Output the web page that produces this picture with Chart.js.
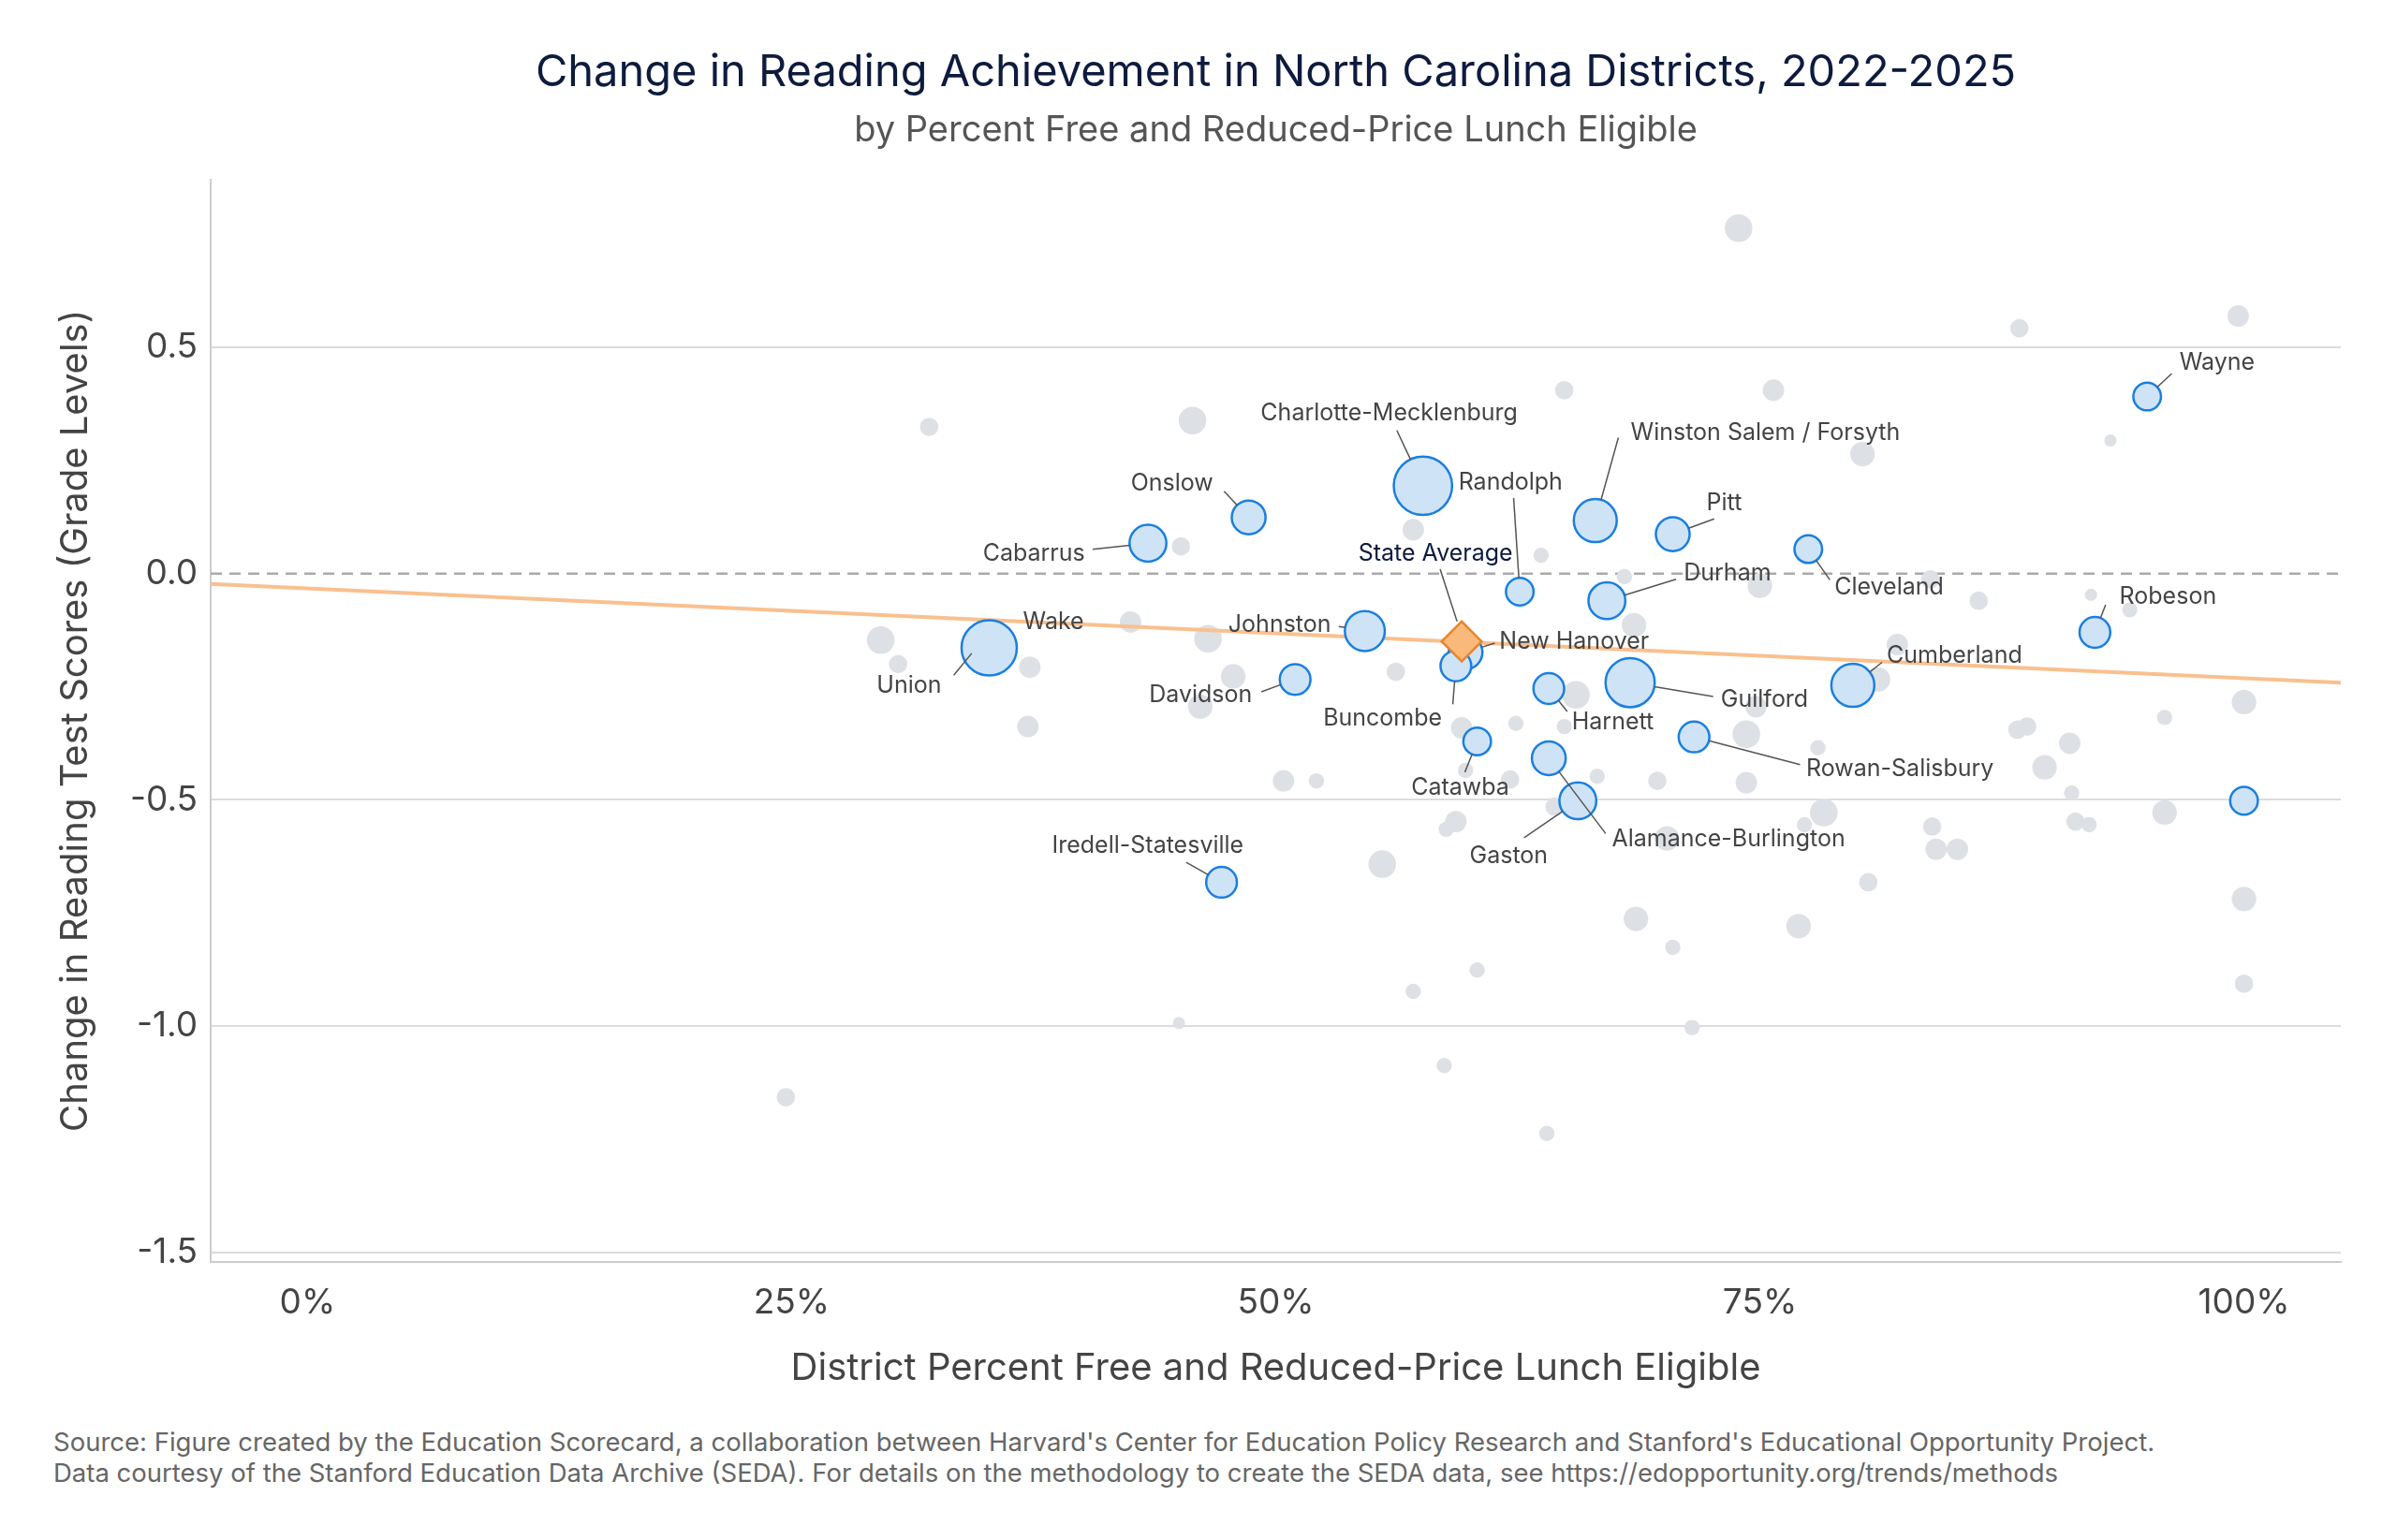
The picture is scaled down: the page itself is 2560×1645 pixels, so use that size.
<!DOCTYPE html>
<html>
<head>
<meta charset="utf-8">
<script src="https://cdn.jsdelivr.net/npm/chart.js@4.4.1/dist/chart.umd.min.js"></script>
<style>
  body { margin: 0; background: #fff; font-family: Inter, "Noto Sans", sans-serif; }
  #wrap { position: relative; width: 2560px; height: 1500px; }
  #foot { position: absolute; left: 57px; top: 1524px; font-size: 27.5px; color: #666; line-height: 33px; }
</style>
</head>
<body>
<div id="wrap"><canvas id="myChart"></canvas></div>
<div id="foot">Source: Figure created by the Education Scorecard, a collaboration between Harvard's Center for Education Policy Research and Stanford's Educational Opportunity Project.<br>Data courtesy of the Stanford Education Data Archive (SEDA). For details on the methodology to create the SEDA data, see https://edopportunity.org/trends/methods</div>
<script>
//------------------------------data-----------------
const S = 1.641; // reference px -> page px

const xTicks = [0, 25, 50, 75, 100];
const yTicks = [0.5, 0.0, -0.5, -1.0, -1.5];

// gray districts: percent FRPL, change, size
const grayX = [73.9,32.1,45.7,64.9,75.7,88.4,99.7,93.1,80.3,57.1,45.1,63.7,68.0,75.0,83.8,86.3,92.1,94.1,68.5,29.6,42.5,46.5,37.3,47.8,46.1,56.2,37.2,65.5,74.8,74.3,81.1,82.1,59.6,62.4,64.9,78.0,88.8,88.3,91.0,89.7,100,95.9,91.1,91.3,92.0,95.9,83.9,84.1,85.2,78.3,77.3,74.3,69.7,70.2,66.6,59.8,62.1,64.4,50.4,52.1,59.3,58.8,55.5,77.0,80.6,68.6,70.5,100,100,57.1,60.4,45.0,71.5,58.7,24.7,64.0,30.5];
const grayY = [0.763,0.324,0.338,0.405,0.405,0.542,0.569,0.294,0.264,0.097,0.060,0.040,-0.007,-0.027,-0.013,-0.060,-0.047,-0.080,-0.114,-0.147,-0.107,-0.144,-0.207,-0.227,-0.294,-0.217,-0.338,-0.268,-0.294,-0.355,-0.234,-0.157,-0.341,-0.331,-0.338,-0.385,-0.338,-0.345,-0.375,-0.428,-0.284,-0.318,-0.485,-0.548,-0.555,-0.528,-0.559,-0.609,-0.609,-0.528,-0.555,-0.462,-0.458,-0.585,-0.448,-0.435,-0.455,-0.515,-0.458,-0.458,-0.548,-0.565,-0.642,-0.779,-0.682,-0.763,-0.826,-0.719,-0.906,-0.923,-0.876,-0.993,-1.003,-1.087,-1.157,-1.237,-0.200];
const grayR = [9,6,9,6,7,6,7,4,8,7,6,5,5,8,6,6,4,5,8,9,7,9,7,8,8,6,7,9,7,9,8,7,7,5,5,5,6,6,7,8,8,5,5,6,5,8,6,7,7,9,5,7,6,8,5,5,6,6,7,5,7,5,9,8,6,8,5,8,6,5,5,4,5,5,6,5,6];

// highlighted districts
const names = ['Union','Wake','Cabarrus','Onslow','Charlotte-Mecklenburg','Randolph','Winston Salem / Forsyth','Pitt','Cleveland','Durham','Johnston','New Hanover','Buncombe','Davidson','Guilford','Harnett','Cumberland','Rowan-Salisbury','Catawba','Alamance-Burlington','Gaston','Iredell-Statesville','Wayne','Robeson',''];
const hiX = [34.8,35.2,43.4,48.6,57.6,62.6,66.5,70.5,77.5,67.1,54.6,59.8,59.3,51.0,68.3,64.1,79.8,71.6,60.4,64.1,65.6,47.2,95.0,92.3,100];
const hiY = [-0.150,-0.164,0.067,0.124,0.194,-0.040,0.117,0.087,0.054,-0.060,-0.127,-0.174,-0.204,-0.234,-0.241,-0.254,-0.247,-0.361,-0.371,-0.408,-0.502,-0.682,0.391,-0.130,-0.502];
const hiR = [10,18,12,11,19,9,14,11,9,12,13,11,10,10,16,10,14,10,9,11,12,10,9,10,9];

// label placement (reference px relative to point): text x, text y, align, leader start x, y
const labelPos = [
  [-26,29,'right',-18,22],[22,-17,'left',13,-8],[-41,7,'right',-36,4],[-23,-22,'right',-16,-17],
  [-22,-47,'center',-17,-36],[-6,-71,'center',-4,-61],[23,-57,'left',15,-54],[22,-20,'left',27,-10],
  [17,25,'left',14,20],[50,-18,'left',45,-14],[-22,-4,'right',-17,-3],[22,-7,'left',19,-6],
  [-9,34,'right',-2,25],[-28,10,'right',-22,8],[59,11,'left',54,9],[15,22,'left',12,15],
  [22,-19,'left',19,-15],[73,21,'left',69,18],[-11,30,'center',-8,20],[41,53,'left',37,49],
  [-45,36,'center',-35,24],[-48,-24,'center',-23,-13],[21,-22,'left',16,-15],[16,-23,'left',7,-18],
  null
];

const avgX = [59.6];
const avgY = [-0.15];

const trendX = [-5, 105];
const trendY = [-0.023, -0.241];

//------------------------------chart-----------------
const pts = (xs, ys) => xs.map((x, i) => ({x: x, y: ys[i]}));

const labelPlugin = {
  id: 'labels',
  beforeDatasetsDraw(chart) {
    const {ctx, chartArea, scales} = chart;
    const y0 = scales.y.getPixelForValue(0);
    ctx.save();
    ctx.strokeStyle = '#aaaaaa';
    ctx.lineWidth = 2.5;
    ctx.setLineDash([12, 8]);
    ctx.beginPath();
    ctx.moveTo(chartArea.left, y0);
    ctx.lineTo(chartArea.right, y0);
    ctx.stroke();
    ctx.restore();
  },
  afterDatasetsDraw(chart) {
    const {ctx, scales} = chart;
    ctx.save();
    ctx.font = '25px Inter, "Noto Sans", sans-serif';
    ctx.textBaseline = 'middle';
    names.forEach((n, i) => {
      const p = labelPos[i];
      if (!p) return;
      const px = scales.x.getPixelForValue(hiX[i]);
      const py = scales.y.getPixelForValue(hiY[i]);
      const lx = px + p[3] * S, ly = py + p[4] * S;
      const d = Math.hypot(lx - px, ly - py);
      const r = hiR[i] * S;
      if (d > r) {
        ctx.strokeStyle = '#555';
        ctx.lineWidth = 1.5;
        ctx.beginPath();
        ctx.moveTo(lx, ly);
        ctx.lineTo(px + (lx - px) * r / d, py + (ly - py) * r / d);
        ctx.stroke();
      }
      ctx.fillStyle = '#444';
      ctx.textAlign = p[2];
      ctx.fillText(n, px + p[0] * S, py + p[1] * S);
    });
    // state average
    const ax = scales.x.getPixelForValue(avgX[0]);
    const ay = scales.y.getPixelForValue(avgY[0]);
    ctx.strokeStyle = '#555';
    ctx.lineWidth = 1.5;
    ctx.beginPath();
    ctx.moveTo(ax - 14 * S, ay - 47 * S);
    ctx.lineTo(ax - 3 * S, ay - 13 * S);
    ctx.stroke();
    ctx.fillStyle = '#0d1b3e';
    ctx.textAlign = 'center';
    ctx.fillText('State Average', ax - 17 * S, ay - 57 * S);
    ctx.restore();
  }
};

const config = {
  type: 'scatter',
  data: {
    datasets: [
      { label: 'State Average', data: pts(avgX, avgY), order: 0, pointStyle: 'rectRot',
        pointRadius: 13 * S, backgroundColor: '#f9b97a', borderColor: '#e8852a', borderWidth: 2.5 },
      { label: 'Highlighted', data: pts(hiX, hiY), order: 1, pointRadius: hiR.map(r => r * S),
        backgroundColor: '#cfe3f7', borderColor: '#1a7fe0', borderWidth: 2.5 },
      { label: 'Trend', type: 'line', data: pts(trendX, trendY), order: 2, pointRadius: 0,
        borderColor: '#f9c08f', borderWidth: 4 },
      { label: 'Districts', data: pts(grayX, grayY), order: 3, pointRadius: grayR.map(r => r * S),
        backgroundColor: '#dde1e6', borderWidth: 0 }
    ]
  },
  options: {
    responsive: true,
    maintainAspectRatio: false,
    animation: false,
    layout: { padding: { top: 50, right: 60, left: 53, bottom: 10 } },
    plugins: {
      legend: { display: false },
      tooltip: { enabled: false },
      title: { display: true, fullSize: false, text: 'Change in Reading Achievement in North Carolina Districts, 2022-2025',
        color: '#0d1b3e', font: { size: 47, family: 'Inter', weight: 'normal' }, padding: { bottom: 10 } },
      subtitle: { display: true, fullSize: false, text: 'by Percent Free and Reduced-Price Lunch Eligible',
        color: '#555', font: { size: 38, family: 'Inter' }, padding: { bottom: 30 } }
    },
    scales: {
      x: {
        min: -5, max: 105,
        afterBuildTicks: a => { a.ticks = xTicks.map(v => ({value: v})); },
        ticks: { callback: v => v + '%', color: '#444', font: { size: 37, family: 'Inter' }, padding: 22 },
        grid: { display: false, drawTicks: false },
        border: { color: '#ccc', width: 2 },
        title: { display: true, text: 'District Percent Free and Reduced-Price Lunch Eligible',
          color: '#444', font: { size: 40, family: 'Inter' }, padding: { top: 2 } }
      },
      y: {
        min: -1.52, max: 0.87,
        afterBuildTicks: a => { a.ticks = yTicks.map(v => ({value: v})); },
        ticks: { callback: v => v.toFixed(1), color: '#444', font: { size: 37, family: 'Inter' }, padding: 14 },
        grid: { color: c => (c.tick && c.tick.value === 0 ? 'rgba(0,0,0,0)' : '#dcdcdc'), lineWidth: 2, drawTicks: false },
        border: { color: '#ccc', width: 2 },
        title: { display: true, text: 'Change in Reading Test Scores (Grade Levels)',
          color: '#444', font: { size: 40, family: 'Inter' }, padding: { bottom: 20 } }
      }
    }
  },
  plugins: [labelPlugin]
};

var chart = new Chart(document.getElementById('myChart'), config);
</script>
</body>
</html>
